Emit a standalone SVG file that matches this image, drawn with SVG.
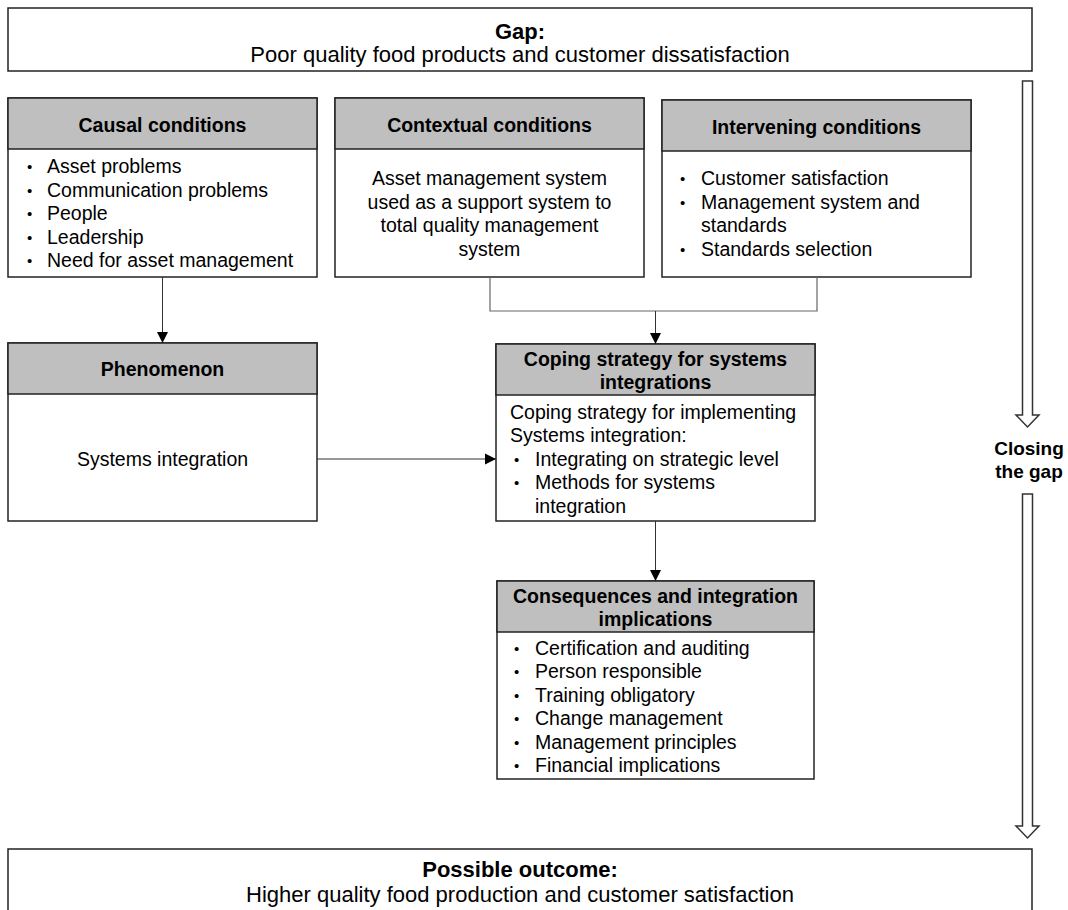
<svg xmlns="http://www.w3.org/2000/svg" width="1068" height="910" viewBox="0 0 1068 910">
<style>
text{font-family:"Liberation Sans",Arial,sans-serif;fill:#000}
.b{font-weight:bold}
.t{font-size:19.5px}
.big{font-size:22px}
.c{text-anchor:middle}
.bu{font-size:15px}
.box{fill:#fff;stroke:#222;stroke-width:1.5}
.hd{fill:#bfbfbf;stroke:#222;stroke-width:1.5}
.con{fill:none;stroke:#333;stroke-width:1}
.gray{fill:none;stroke:#666;stroke-width:1.2}
.blk{fill:#fff;stroke:#333;stroke-width:1.5}
</style>
<defs>
<marker id="ah" markerUnits="userSpaceOnUse" markerWidth="12" markerHeight="12" refX="11" refY="6" orient="auto">
<path d="M0,0.5 L11,6 L0,11.5 Z" fill="#000"/>
</marker>
</defs>

<g id="gap">
<rect class="box" x="8" y="8" width="1024" height="63"/>
<text class="b big c" x="520" y="39">Gap:</text>
<text class="big c" x="520" y="62">Poor quality food products and customer dissatisfaction</text>
</g>

<g id="causal">
<rect class="box" x="8" y="98" width="309" height="179"/>
<rect class="hd" x="8" y="98" width="309" height="51"/>
<text class="b t c" x="162.5" y="132">Causal conditions</text>
<g class="t">
<text class="bu" x="27" y="172">•</text><text x="47" y="173">Asset problems</text>
<text class="bu" x="27" y="196">•</text><text x="47" y="197">Communication problems</text>
<text class="bu" x="27" y="219">•</text><text x="47" y="220">People</text>
<text class="bu" x="27" y="243">•</text><text x="47" y="244">Leadership</text>
<text class="bu" x="27" y="266">•</text><text x="47" y="267">Need for asset management</text>
</g>
</g>

<g id="contextual">
<rect class="box" x="335" y="98" width="309" height="179"/>
<rect class="hd" x="335" y="98" width="309" height="51"/>
<text class="b t c" x="489.5" y="132">Contextual conditions</text>
<g class="t c">
<text x="489.5" y="185">Asset management system</text>
<text x="489.5" y="209">used as a support system to</text>
<text x="489.5" y="232">total quality management</text>
<text x="489.5" y="256">system</text>
</g>
</g>

<g id="intervening">
<rect class="box" x="662" y="100" width="309" height="177"/>
<rect class="hd" x="662" y="100" width="309" height="51"/>
<text class="b t c" x="816.5" y="134">Intervening conditions</text>
<g class="t">
<text class="bu" x="680" y="184">•</text><text x="701" y="185">Customer satisfaction</text>
<text class="bu" x="680" y="208">•</text><text x="701" y="209">Management system and</text>
<text x="701" y="232">standards</text>
<text class="bu" x="680" y="255">•</text><text x="701" y="256">Standards selection</text>
</g>
</g>

<g id="phenomenon">
<rect class="box" x="8" y="343" width="309" height="178"/>
<rect class="hd" x="8" y="343" width="309" height="51"/>
<text class="b t c" x="162.5" y="376">Phenomenon</text>
<text class="t c" x="162.5" y="466">Systems integration</text>
</g>

<g id="coping">
<rect class="box" x="496" y="344" width="319" height="177"/>
<rect class="hd" x="496" y="344" width="319" height="51"/>
<text class="b t c" x="655.5" y="366">Coping strategy for systems</text>
<text class="b t c" x="655.5" y="389">integrations</text>
<g class="t">
<text x="510" y="419">Coping strategy for implementing</text>
<text x="510" y="442">Systems integration:</text>
<text class="bu" x="514" y="465">•</text><text x="535" y="466">Integrating on strategic level</text>
<text class="bu" x="514" y="488">•</text><text x="535" y="489">Methods for systems</text>
<text x="535" y="513">integration</text>
</g>
</g>

<g id="consequences">
<rect class="box" x="497" y="581" width="317" height="198"/>
<rect class="hd" x="497" y="581" width="317" height="51"/>
<text class="b t c" x="655.5" y="603">Consequences and integration</text>
<text class="b t c" x="655.5" y="626">implications</text>
<g class="t">
<text class="bu" x="514" y="654">•</text><text x="535" y="655">Certification and auditing</text>
<text class="bu" x="514" y="677">•</text><text x="535" y="678">Person responsible</text>
<text class="bu" x="514" y="701">•</text><text x="535" y="702">Training obligatory</text>
<text class="bu" x="514" y="724">•</text><text x="535" y="725">Change management</text>
<text class="bu" x="514" y="748">•</text><text x="535" y="749">Management principles</text>
<text class="bu" x="514" y="771">•</text><text x="535" y="772">Financial implications</text>
</g>
</g>

<g id="outcome">
<rect class="box" x="8" y="849" width="1024" height="75"/>
<text class="b big c" x="520" y="877">Possible outcome:</text>
<text class="big c" x="520" y="902">Higher quality food production and customer satisfaction</text>
</g>

<g id="closing">
<path class="blk" d="M1022.5,81 H1032.5 V415 H1039 L1027.5,427 L1016,415 H1022.5 Z"/>
<text class="b c" style="font-size:19px" x="1029" y="455">Closing</text>
<text class="b c" style="font-size:19px" x="1029" y="478">the gap</text>
<path class="blk" d="M1022.5,494 H1032.5 V826 H1039 L1027.5,838 L1016,826 H1022.5 Z"/>
</g>

<g id="connectors">
<line class="con" x1="162.5" y1="277" x2="162.5" y2="343" marker-end="url(#ah)"/>
<path class="gray" d="M490,277 V311 H817 V277"/>
<line class="con" x1="655.5" y1="311" x2="655.5" y2="344" marker-end="url(#ah)"/>
<line class="con" x1="317" y1="459" x2="496" y2="459" marker-end="url(#ah)"/>
<line class="con" x1="655.5" y1="521" x2="655.5" y2="581" marker-end="url(#ah)"/>
</g>
</svg>
